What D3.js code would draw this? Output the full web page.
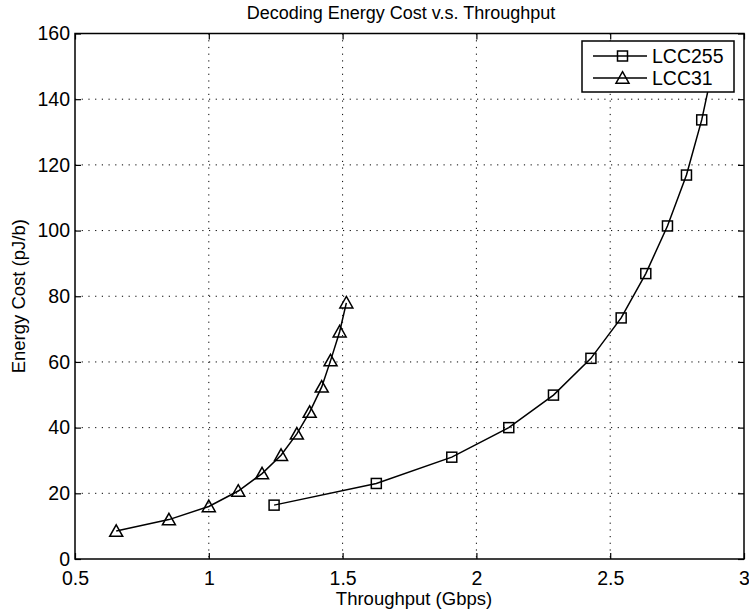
<!DOCTYPE html>
<html>
<head>
<meta charset="utf-8">
<script src="https://cdn.jsdelivr.net/npm/d3@7"></script>
<style>
  html, body { margin: 0; padding: 0; background: #fff; }
  svg { display: block; font-family: "Liberation Sans", Arial, Helvetica, sans-serif; }
</style>
</head>
<body>
<div id="chart"></div>
<script>
// Data
const seriesNames = ["LCC255", "LCC31"];
const lcc255X = [1.244, 1.626, 1.908, 2.121, 2.288, 2.428, 2.541, 2.633, 2.714, 2.785, 2.842, 2.89];
const lcc255Y = [16.4, 23.0, 31.0, 40.0, 49.9, 61.1, 73.4, 86.9, 101.4, 116.9, 133.7, 152];
const lcc31X = [0.654, 0.851, 1.0, 1.110, 1.199, 1.270, 1.329, 1.377, 1.422, 1.455, 1.489, 1.514];
const lcc31Y = [8.5, 12.0, 16.0, 20.7, 26.0, 31.6, 38.1, 44.7, 52.4, 60.4, 69.2, 78.0];
const xTicks = [0.5, 1, 1.5, 2, 2.5, 3];
const yTicks = [0, 20, 40, 60, 80, 100, 120, 140, 160];

const width = 749, height = 615;
const plotLeft = 75, plotRight = 744, plotTop = 33.5, plotBottom = 559;

const svg = d3.select("#chart").append("svg")
    .attr("width", width)
    .attr("height", height);

const x = d3.scaleLinear().domain([0.5, 3]).range([plotLeft, plotRight]);
const y = d3.scaleLinear().domain([0, 160]).range([plotBottom, plotTop]);

// grid (dotted)
svg.append("g").selectAll("line").data(xTicks.slice(1, -1)).join("line")
    .attr("x1", d => x(d)).attr("x2", d => x(d))
    .attr("y1", plotTop).attr("y2", plotBottom)
    .attr("stroke", "#000").attr("stroke-width", 1)
    .attr("stroke-dasharray", "1.2,5.5");
svg.append("g").selectAll("line").data(yTicks.slice(1, -1)).join("line")
    .attr("x1", plotLeft).attr("x2", plotRight)
    .attr("y1", d => y(d)).attr("y2", d => y(d))
    .attr("stroke", "#000").attr("stroke-width", 1)
    .attr("stroke-dasharray", "1.2,5.5");

// axes with inward ticks on all four sides
const tick = 6;
svg.append("g").attr("transform", `translate(0,${plotBottom})`)
    .call(d3.axisBottom(x).tickValues(xTicks).tickSizeInner(-tick).tickSizeOuter(0).tickPadding(12).tickFormat(d3.format("")))
    .call(g => g.select(".domain").remove());
svg.append("g").attr("transform", `translate(0,${plotTop})`)
    .call(d3.axisTop(x).tickValues(xTicks).tickSizeInner(-tick).tickSizeOuter(0).tickFormat(""))
    .call(g => g.select(".domain").remove());
svg.append("g").attr("transform", `translate(${plotLeft},0)`)
    .call(d3.axisLeft(y).tickValues(yTicks).tickSizeInner(-tick).tickSizeOuter(0).tickPadding(5))
    .call(g => g.select(".domain").remove());
svg.append("g").attr("transform", `translate(${plotRight},0)`)
    .call(d3.axisRight(y).tickValues(yTicks).tickSizeInner(-tick).tickSizeOuter(0).tickFormat(""))
    .call(g => g.select(".domain").remove());

svg.selectAll(".tick line").attr("stroke", "#000").attr("stroke-width", 1.2);
svg.selectAll(".tick text").attr("fill", "#000").attr("font-size", "19.5px")
    .attr("font-family", "'Liberation Sans', Arial, sans-serif");

// box
svg.append("rect")
    .attr("x", plotLeft).attr("y", plotTop)
    .attr("width", plotRight - plotLeft).attr("height", plotBottom - plotTop)
    .attr("fill", "none").attr("stroke", "#000").attr("stroke-width", 1.5);

// clip for data
svg.append("clipPath").attr("id", "plotclip")
    .append("rect").attr("x", plotLeft).attr("y", plotTop)
    .attr("width", plotRight - plotLeft).attr("height", plotBottom - plotTop);

const line = d3.line().x(d => x(d[0])).y(d => y(d[1]));
const lcc255 = lcc255X.map((v, i) => [v, lcc255Y[i]]);
const lcc31 = lcc31X.map((v, i) => [v, lcc31Y[i]]);

const plot = svg.append("g").attr("clip-path", "url(#plotclip)");

plot.append("path").datum(lcc255).attr("d", line)
    .attr("fill", "none").attr("stroke", "#000").attr("stroke-width", 1.5);
plot.append("path").datum(lcc31).attr("d", line)
    .attr("fill", "none").attr("stroke", "#000").attr("stroke-width", 1.5);

const sq = 10;
function squareMarker(g, cx, cy) {
    g.append("rect")
        .attr("x", cx - sq / 2).attr("y", cy - sq / 2)
        .attr("width", sq).attr("height", sq)
        .attr("fill", "none").attr("stroke", "#000").attr("stroke-width", 1.5);
}
function triMarker(g, cx, cy) {
    const w = 13, h = 11.5;
    g.append("path")
        .attr("d", `M${cx},${cy - h * 0.55} L${cx + w / 2},${cy + h * 0.45} L${cx - w / 2},${cy + h * 0.45} Z`)
        .attr("fill", "none").attr("stroke", "#000").attr("stroke-width", 1.5);
}
lcc255.forEach(d => squareMarker(plot, x(d[0]), y(d[1])));
lcc31.forEach(d => triMarker(plot, x(d[0]), y(d[1])));

// legend
const lg = svg.append("g");
lg.append("rect").attr("x", 582).attr("y", 41).attr("width", 152).attr("height", 51)
    .attr("fill", "#fff").attr("stroke", "#000").attr("stroke-width", 1.5);
const legendY = [56, 78];
seriesNames.forEach((name, i) => {
    lg.append("line").attr("x1", 593).attr("x2", 647)
        .attr("y1", legendY[i]).attr("y2", legendY[i])
        .attr("stroke", "#000").attr("stroke-width", 1.5);
    if (i === 0) squareMarker(lg, 622.5, legendY[i]);
    else triMarker(lg, 622.5, legendY[i]);
    lg.append("text").attr("x", 652).attr("y", legendY[i] + 7)
        .attr("font-size", "19.5px").attr("fill", "#000").text(name);
});

// titles
svg.append("text").attr("x", 401).attr("y", 18.5)
    .attr("text-anchor", "middle").attr("font-size", "18px")
    .text("Decoding Energy Cost v.s. Throughput");
svg.append("text").attr("x", 414).attr("y", 605)
    .attr("text-anchor", "middle").attr("font-size", "18.5px")
    .text("Throughput (Gbps)");
svg.append("text")
    .attr("transform", `translate(25,${(plotTop + plotBottom) / 2}) rotate(-90)`)
    .attr("text-anchor", "middle").attr("font-size", "18.5px")
    .text("Energy Cost (pJ/b)");
</script>
</body>
</html>
